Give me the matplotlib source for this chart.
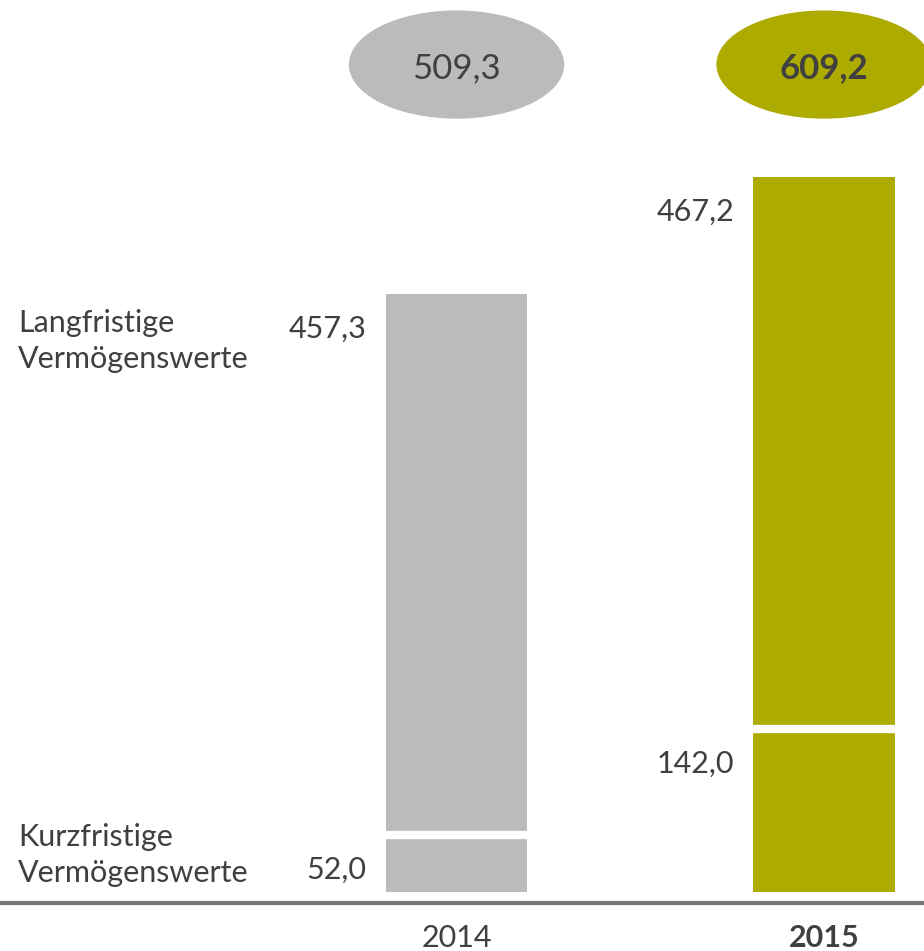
import matplotlib.pyplot as plt
from matplotlib.patches import Ellipse
from matplotlib.transforms import offset_copy

plt.rcParams['font.family'] = ['Lato', 'DejaVu Sans']

years = ['2014', '2015']
kurzfristig = [52.0, 142.0]
langfristig = [457.3, 467.2]
totals = [509.3, 609.2]
colors = ['#BBBBBB', '#ADAA00']
text_col = '#404040'

fig = plt.figure(figsize=(9.24, 9.51), dpi=100)
ax = fig.add_axes([0, 0, 1, 1])
ax.set_xlim(-1.242, 1.272)
ax.set_ylim(-50.3, 760)
ax.axis('off')

w = 0.384
sep = offset_copy(ax.transData, fig=fig, y=-4, units='dots')
for i, yr in enumerate(years):
    ax.bar(i, kurzfristig[i], width=w, color=colors[i])
    ax.bar(i, langfristig[i], bottom=kurzfristig[i], width=w, color=colors[i])
    # white separator between the two segments
    ax.plot([i - w / 2, i + w / 2], [kurzfristig[i]] * 2, transform=sep,
            color='white', lw=6, solid_capstyle='butt')
    # value labels, left of each segment near its top
    ax.annotate(f'{kurzfristig[i]:.1f}'.replace('.', ','), xy=(i - w / 2, kurzfristig[i]),
                xytext=(-14, -28), textcoords='offset points', ha='right', va='center',
                fontsize=22, color=text_col)
    ax.annotate(f'{langfristig[i]:.1f}'.replace('.', ','), xy=(i - w / 2, totals[i]),
                xytext=(-14, -25), textcoords='offset points', ha='right', va='center',
                fontsize=22, color=text_col)
    # total in ellipse
    ax.add_patch(Ellipse((i, 705), 0.582, 91, color=colors[i]))
    ax.text(i, 702, f'{totals[i]:.1f}'.replace('.', ','), ha='center', va='center',
            fontsize=25, color=text_col, fontweight='bold' if i == 1 else 'normal')
    # year label
    ax.text(i, -39, yr, ha='center', va='center', fontsize=22, color=text_col,
            fontweight='bold' if i == 1 else 'normal')

ax.axhline(-9.5, color='#767676', lw=3)

fig.text(0.0195, 1 - 341 / 951, 'Langfristige\nVermögenswerte', ha='left', va='center',
         fontsize=22, color=text_col, linespacing=1.35)
fig.text(0.0195, 1 - 855 / 951, 'Kurzfristige\nVermögenswerte', ha='left', va='center',
         fontsize=22, color=text_col, linespacing=1.35)

fig.savefig('out.png', dpi=100)
